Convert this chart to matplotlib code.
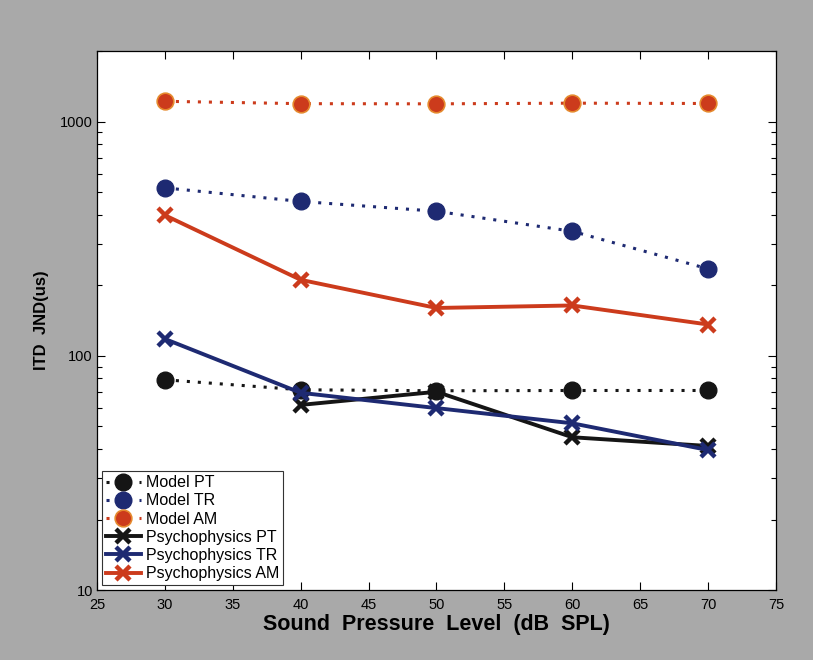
import matplotlib.pyplot as plt
import numpy as np

# sound level (dB SPL)
levels = [30, 40, 50, 60, 70]

# ITD JND values (us)
model_pt = [79, 71.6, 70.9, 71.1, 71.1]
model_tr = [521, 456, 414, 340, 235]
model_am = [1220, 1192, 1190, 1198, 1194]
psy_pt = [np.nan, 61.7, 70.2, 44.9, 41.2]
psy_tr = [118, 69.5, 59.8, 51.5, 39.6]
psy_am = [398, 211, 160, 164, 136]

black = '#151515'
navy = '#1e2a72'
red = '#cc3b1c'
red_edge = '#e58a2e'

plt.rcParams['font.family'] = ['Liberation Sans', 'DejaVu Sans']

fig = plt.figure(figsize=(8.13, 6.60), dpi=100)
fig.patch.set_facecolor('#a9a9a9')
ax = fig.add_axes([0.1193, 0.106, 0.8352, 0.8167])
ax.set_facecolor('white')

dots = (0, (1, 2.6))

# model curves: dotted lines with filled circles
ax.plot(levels, model_pt, linestyle=dots, color=black, lw=2.2, marker='o',
        ms=12, mfc=black, mec=black, label='Model PT')
ax.plot(levels, model_tr, linestyle=dots, color=navy, lw=2.2, marker='o',
        ms=12, mfc=navy, mec=navy, label='Model TR')
ax.plot(levels, model_am, linestyle=dots, color=red, lw=2.2, marker='o',
        ms=12, mfc=red, mec=red_edge, mew=1.2, label='Model AM')

# psychophysics: solid lines with x markers
ax.plot(levels, psy_pt, '-', color=black, lw=2.8, marker='x', ms=10,
        mew=3.2, label='Psychophysics PT')
ax.plot(levels, psy_tr, '-', color=navy, lw=2.8, marker='x', ms=10,
        mew=3.2, label='Psychophysics TR')
ax.plot(levels, psy_am, '-', color=red, lw=2.8, marker='x', ms=10,
        mew=3.2, label='Psychophysics AM')

ax.set_yscale('log')
ax.set_xlim(25, 75)
ax.set_ylim(10, 2000)
ax.set_xticks(range(25, 80, 5))
ax.set_yticks([10, 100, 1000])
ax.set_yticklabels(['10', '100', '1000'])
ax.tick_params(which='both', direction='in', top=True, right=True,
               labelsize=10.5, width=0.8)
ax.tick_params(which='major', length=6)
ax.tick_params(which='minor', length=3.5)
ax.tick_params(axis='x', pad=6)
ax.tick_params(axis='y', pad=3)
for s in ax.spines.values():
    s.set_linewidth(0.9)

ax.set_xlabel('Sound  Pressure  Level  (dB  SPL)', fontsize=15.5,
              fontweight='bold', labelpad=1)
ax.set_ylabel('ITD  JND(us)', fontsize=12, fontweight='bold', labelpad=8)

leg = ax.legend(loc='lower left', fontsize=11.5, handlelength=2.2,
                handletextpad=0.3, borderpad=0.25, labelspacing=0.2,
                borderaxespad=0.3, fancybox=False, framealpha=1,
                edgecolor='#333333')
leg.get_frame().set_linewidth(0.8)

fig.savefig('out.png', dpi=100, facecolor=fig.get_facecolor())
